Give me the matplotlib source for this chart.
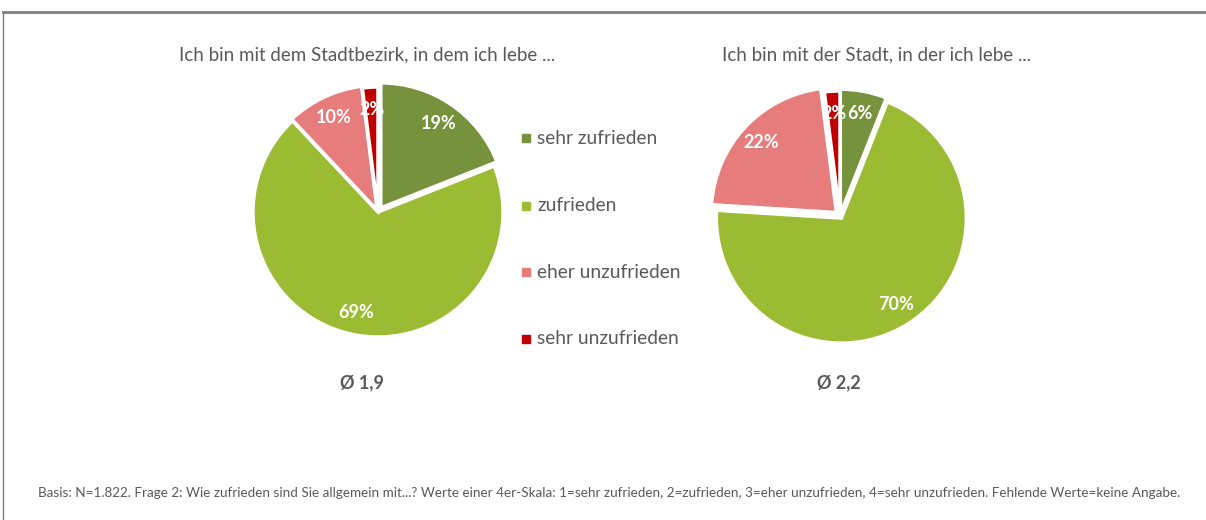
import matplotlib.pyplot as plt
from matplotlib.patches import Rectangle
from matplotlib.lines import Line2D

categories = ["sehr zufrieden", "zufrieden", "eher unzufrieden", "sehr unzufrieden"]
bezirk_values = [19, 69, 10, 2]
stadt_values = [6, 70, 22, 2]
titles = ["Ich bin mit dem Stadtbezirk, in dem ich lebe ...",
          "Ich bin mit der Stadt, in der ich lebe ..."]
means = ["Ø 1,9", "Ø 2,2"]
footnote = ("Basis: N=1.822. Frage 2: Wie zufrieden sind Sie allgemein mit...? "
            "Werte einer 4er-Skala: 1=sehr zufrieden, 2=zufrieden, 3=eher unzufrieden, "
            "4=sehr unzufrieden. Fehlende Werte=keine Angabe.")

colors = ["#76923C", "#9BBB33", "#E67C7C", "#C00000"]
text_grey = "#595959"

plt.rcParams['font.family'] = ['Lato', 'DejaVu Sans']

W, H = 1206, 520
fig = plt.figure(figsize=(W / 100, H / 100), dpi=100)
fig.patch.set_facecolor("white")

# frame: grey top and left lines
fig.add_artist(Line2D([3 / W, 1 - 1 / W], [1 - 12 / H, 1 - 12 / H], color="#7F7F7F", lw=2))
fig.add_artist(Line2D([3 / W, 3 / W], [0, 1 - 12 / H], color="#7F7F7F", lw=1))


def pie_axes(cx, cy, r=125, lim=1.08):
    half = r * lim
    ax = fig.add_axes([(cx - half) / W, (H - cy - half) / H, 2 * half / W, 2 * half / H])
    return ax, lim


def draw_pie(ax, lim, values, explode):
    wedges, texts, autotexts = ax.pie(
        values, colors=colors, startangle=90, counterclock=False,
        explode=explode, pctdistance=0.82,
        autopct=lambda p: f"{round(p)}%",
        wedgeprops=dict(edgecolor="white", linewidth=2.5))
    for t in autotexts:
        t.set_color("white")
        t.set_fontweight("bold")
        t.set_fontsize(13)
    # pie() resets the limits, so set them afterwards
    ax.set_xlim(-lim, lim)
    ax.set_ylim(-lim, lim)
    ax.set_aspect("equal")
    ax.axis("off")
    return wedges


ax1, lim1 = pie_axes(378, 212)
draw_pie(ax1, lim1, bezirk_values, [0.04, 0, 0.015, 0])
ax2, lim2 = pie_axes(840, 216)
draw_pie(ax2, lim2, stadt_values, [0.015, 0.02, 0.04, 0])

# titles
fig.text(367 / W, 1 - 55 / H, titles[0], ha="center", va="center", fontsize=13.5, color=text_grey)
fig.text(877 / W, 1 - 55 / H, titles[1], ha="center", va="center", fontsize=13.5, color=text_grey)

# mean values
fig.text(362 / W, 1 - 383 / H, means[0], ha="center", va="center", fontsize=13,
         fontweight="bold", color=text_grey)
fig.text(839 / W, 1 - 383 / H, means[1], ha="center", va="center", fontsize=13,
         fontweight="bold", color=text_grey)

# legend
legend_y = [138, 206, 272, 339]
for cat, col, y in zip(categories, colors, legend_y):
    fig.add_artist(Rectangle((522 / W, 1 - (y + 4) / H), 8 / W, 8 / H, color=col,
                             transform=fig.transFigure))
    fig.text(537 / W, 1 - y / H, cat, ha="left", va="center", fontsize=13.8, color=text_grey)

# footnote
fig.text(38 / W, 1 - 493 / H, footnote, ha="left", va="center", fontsize=9.7, color=text_grey)

fig.savefig("out.png", dpi=100, facecolor="white")
